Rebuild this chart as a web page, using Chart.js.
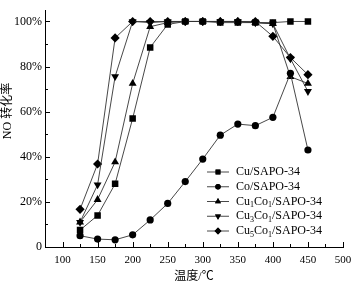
<!DOCTYPE html>
<html>
<head>
<meta charset="utf-8">
<script src="https://cdn.jsdelivr.net/npm/chart.js@4/dist/chart.umd.min.js"></script>
<style>
    html, body { margin: 0; padding: 0; background: #fff; }
    #wrap { width: 362px; height: 285px; }
</style>
</head>
<body>
<div id="wrap"><canvas id="noChart"></canvas></div>
<script>
const temps = [125, 150, 175, 200, 225, 250, 275, 300, 325, 350, 375, 400, 425, 450];

const cuValues = [7.5, 14, 28, 57, 88.5, 98.7, 100, 100, 99.5, 99.5, 99.5, 99.5, 100, 100];
const coValues = [5, 3.5, 3.2, 5.4, 12, 19.3, 29, 39, 49.6, 54.5, 53.8, 57.5, 77, 43];
const cu1co1Values = [11, 21, 37.7, 72.5, 97.7, 99.5, 100, 100, 100, 100, 99.5, 99, 75.5, 72.5];
const cu3co1Values = [11, 27.6, 75.6, 100, 99.5, 100, 100, 100, 100, 100, 99.5, 99, 83.5, 69];
const cu5co1Values = [16.7, 36.8, 92.7, 100, 100, 100, 100, 100, 100, 100, 100, 93.4, 84, 76.4];

const xTicks = [100, 150, 200, 250, 300, 350, 400, 450, 500];
const yTicks = [0, 20, 40, 60, 80, 100];

const yTitle = "NO 转化率";
const xTitle = "温度/℃";

// legend label parts: [text, isSubscript]
const seriesLabels = [
    [["Cu/SAPO-34", false]],
    [["Co/SAPO-34", false]],
    [["Cu", false], ["1", true], ["Co", false], ["1", true], ["/SAPO-34", false]],
    [["Cu", false], ["3", true], ["Co", false], ["1", true], ["/SAPO-34", false]],
    [["Cu", false], ["5", true], ["Co", false], ["1", true], ["/SAPO-34", false]]
];

const serif = "'Liberation Serif', 'Times New Roman', serif";
const cjk = "'Liberation Serif', 'Noto Sans CJK SC', serif";

function toPoints(values) {
    return values.map((v, i) => ({ x: temps[i], y: v }));
}

const markers = [
    { style: "rect", radius: 4.6, rotation: 0 },
    { style: "circle", radius: 3.6, rotation: 0 },
    { style: "triangle", radius: 4.6, rotation: 0 },
    { style: "triangle", radius: 4.6, rotation: 180 },
    { style: "rectRot", radius: 4.6, rotation: 0 }
];

const seriesValues = [cuValues, coValues, cu1co1Values, cu3co1Values, cu5co1Values];

const datasets = seriesValues.map((values, i) => ({
    label: seriesLabels[i].map(p => p[0]).join(""),
    data: toPoints(values),
    borderColor: "#333",
    borderWidth: 0.9,
    backgroundColor: "#000",
    pointBackgroundColor: "#000",
    pointBorderColor: "#000",
    pointBorderWidth: 0,
    pointStyle: markers[i].style,
    pointRadius: markers[i].radius,
    pointRotation: markers[i].rotation,
    tension: 0
}));

function drawMarker(ctx, m, x, y, scale) {
    Chart.helpers.drawPoint(ctx, {
        pointStyle: m.style,
        rotation: m.rotation,
        radius: m.radius * scale,
        borderWidth: 0
    }, x, y);
}

const tickPlugin = {
    id: "tickMarks",
    afterDraw(chart) {
        const ctx = chart.ctx;
        const xs = chart.scales.x;
        const ys = chart.scales.y;
        const area = chart.chartArea;
        ctx.save();
        ctx.strokeStyle = "#000";
        ctx.lineWidth = 1;
        ctx.beginPath();
        for (let t = 100; t <= 500; t += 25) {
            const px = Math.round(xs.getPixelForValue(t)) + 0.5;
            const len = t % 50 === 0 ? 5 : 3;
            ctx.moveTo(px, area.bottom);
            ctx.lineTo(px, area.bottom - len);
        }
        for (let v = 0; v <= 100; v += 10) {
            const py = Math.round(ys.getPixelForValue(v)) + 0.5;
            const len = v % 20 === 0 ? 5 : 3;
            ctx.moveTo(area.left, py);
            ctx.lineTo(area.left + len, py);
        }
        ctx.stroke();

        // y axis title sits a little above the middle of the axis
        ctx.translate(8, 111);
        ctx.rotate(-Math.PI / 2);
        ctx.fillStyle = "#000";
        ctx.font = "12px " + cjk;
        ctx.textAlign = "center";
        ctx.textBaseline = "middle";
        ctx.fillText(yTitle, 0, 0);
        ctx.restore();
    }
};

const legendPlugin = {
    id: "insideLegend",
    afterDraw(chart) {
        const ctx = chart.ctx;
        const rowTop = 172;
        const rowGap = 14.75;
        ctx.save();
        seriesLabels.forEach((parts, i) => {
            const y = rowTop + i * rowGap;
            ctx.strokeStyle = "#333";
            ctx.lineWidth = 0.9;
            ctx.beginPath();
            ctx.moveTo(207, y);
            ctx.lineTo(229, y);
            ctx.stroke();
            ctx.fillStyle = "#000";
            drawMarker(ctx, markers[i], 218, y, 0.75);
            ctx.fill();

            let x = 236;
            ctx.textBaseline = "middle";
            ctx.textAlign = "left";
            parts.forEach(([text, sub]) => {
                ctx.font = (sub ? "8px " : "12px ") + serif;
                ctx.fillText(text, x, sub ? y + 3.5 : y);
                x += ctx.measureText(text).width;
            });
        });
        ctx.restore();
    }
};

new Chart(document.getElementById("noChart"), {
    type: "line",
    data: { datasets },
    options: {
        responsive: true,
        maintainAspectRatio: false,
        animation: false,
        layout: { padding: { top: 7, right: 19, left: 0, bottom: 0 } },
        plugins: {
            legend: { display: false },
            tooltip: { enabled: false }
        },
        scales: {
            x: {
                type: "linear",
                min: 75,
                max: 500,
                afterBuildTicks: scale => {
                    scale.ticks = xTicks.map(v => ({ value: v }));
                },
                afterFit: scale => { scale.height = 38; },
                grid: { display: false, drawTicks: false },
                border: { display: true, color: "#000", width: 1 },
                ticks: {
                    padding: 7,
                    color: "#000",
                    font: { family: serif, size: 11 },
                    maxRotation: 0
                },
                title: {
                    display: true,
                    text: xTitle,
                    color: "#000",
                    font: { family: cjk, size: 12 },
                    padding: { top: 0, bottom: 1 }
                }
            },
            y: {
                min: 0,
                max: 105,
                afterBuildTicks: scale => {
                    scale.ticks = yTicks.map(v => ({ value: v }));
                },
                afterFit: scale => { scale.width = 45; },
                grid: { display: false, drawTicks: false },
                border: { display: true, color: "#000", width: 1 },
                ticks: {
                    padding: 3,
                    color: "#000",
                    font: { family: serif, size: 12 },
                    callback: v => (v === 0 ? "0" : v + "%")
                },
                title: { display: false }
            }
        }
    },
    plugins: [tickPlugin, legendPlugin]
});
</script>
</body>
</html>
